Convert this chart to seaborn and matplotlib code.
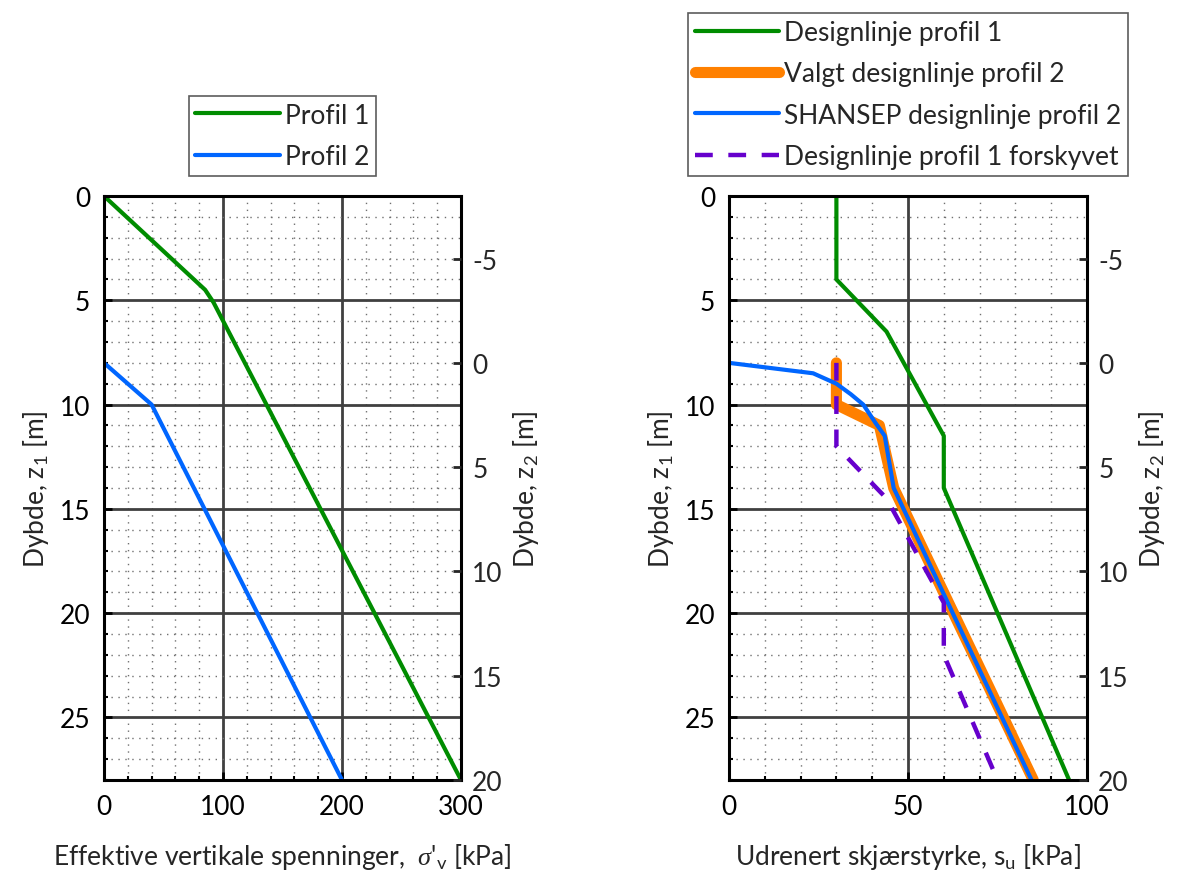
import pandas as pd
import matplotlib
matplotlib.use("Agg")
import matplotlib.pyplot as plt
import seaborn as sns
from matplotlib.ticker import MultipleLocator

# Effective vertical stress profiles [kPa] vs depth z1 [m]
profil1_sigma = [0, 85, 92, 300]
profil1_z = [0, 4.5, 5.1, 28]
profil2_sigma = [0, 40, 200]
profil2_z = [8, 10, 28]

# Undrained shear strength design lines [kPa] vs depth z1 [m]
design1_su = [30, 30, 44, 60, 60, 95]
design1_z = [0, 4, 6.5, 11.5, 14, 28]
valgt2_su = [30, 30, 42, 46, 85]
valgt2_z = [8, 10, 11, 14, 28]
shansep2_su = [0, 23.5, 30, 34, 37.5, 41, 43.5, 46, 84.5]
shansep2_z = [8, 8.5, 9, 9.5, 10, 10.9, 11.5, 14, 28]
forskyvet_su = [30, 30, 44, 60, 60, 75]
forskyvet_z = [8, 12, 14.5, 19.5, 22, 28]

z1_ticks = [0, 5, 10, 15, 20, 25]
z2_ticks = [-5, 0, 5, 10, 15, 20]
z_shift = 8  # z2 = z1 - 8

GREEN = "#008c00"
BLUE = "#0066ff"
ORANGE = "#ff8000"
PURPLE = "#6600cc"

sns.set_style("white")
plt.rcParams["font.family"] = ["Lato", "DejaVu Sans"]
plt.rcParams["mathtext.fontset"] = "custom"
plt.rcParams["mathtext.rm"] = "Lato"
plt.rcParams["mathtext.it"] = "Liberation Serif:italic"
plt.rcParams["mathtext.default"] = "regular"
plt.rcParams["axes.unicode_minus"] = False

FS = 19

fig = plt.figure(figsize=(11.81, 8.79), dpi=100)
ax1 = fig.add_axes([104 / 1181, 1 - 781 / 879, 357 / 1181, 584 / 879])
ax2 = fig.add_axes([729 / 1181, 1 - 781 / 879, 358 / 1181, 584 / 879])


def line(ax, x, z, color, lw, label, **kw):
    df = pd.DataFrame({"x": x, "z": z})
    sns.lineplot(data=df, x="x", y="z", ax=ax, sort=False, estimator=None,
                 color=color, lw=lw, label=label, **kw)


def style_axis(ax, xmax, xmajor, xminor):
    ax.set_xlim(0, xmax)
    ax.set_ylim(28, 0)
    ax.xaxis.set_major_locator(MultipleLocator(xmajor))
    ax.xaxis.set_minor_locator(MultipleLocator(xminor))
    ax.set_yticks(z1_ticks)
    ax.yaxis.set_minor_locator(MultipleLocator(1))
    ax.grid(which="major", color="#404040", lw=2)
    ax.grid(which="minor", color="#707070", lw=1, linestyle=(0, (1, 4)))
    ax.set_axisbelow(True)
    for s in ax.spines.values():
        s.set_color("black")
        s.set_linewidth(2.2)
    ax.tick_params(which="both", direction="in", colors="black",
                   labelsize=FS, top=False, right=False, left=True, bottom=True)
    ax.tick_params(which="major", length=6, width=2, pad=10)
    ax.tick_params(which="minor", length=3, width=1.5)
    ax.set_ylabel("Dybde, z$_{1}$ [m]", fontsize=FS, labelpad=6)

    tw = ax.twinx()
    tw.set_ylim(28 - z_shift, 0 - z_shift)
    tw.set_yticks(z2_ticks)
    tw.tick_params(direction="in", labelsize=FS, length=6, width=2, pad=8)
    tw.set_ylabel("Dybde, z$_{2}$ [m]", fontsize=FS, labelpad=6)
    for s in tw.spines.values():
        s.set_visible(False)
    return tw


def legend(ax):
    leg = ax.legend(loc="lower center", bbox_to_anchor=(0.5, 1.035), fontsize=FS,
                    frameon=True, fancybox=False, edgecolor="#333333",
                    handlelength=3.2, handletextpad=0.2, borderpad=0.25,
                    labelspacing=0.62, borderaxespad=0)
    leg.get_frame().set_linewidth(1.2)


# Left panel
line(ax1, profil1_sigma, profil1_z, GREEN, 3, "Profil 1")
line(ax1, profil2_sigma, profil2_z, BLUE, 3, "Profil 2")
style_axis(ax1, 300, 100, 20)
ax1.set_xlabel(r"Effektive vertikale spenninger,  $\mathit{\sigma}$'$_{v}$ [kPa]",
               fontsize=FS, labelpad=16)
legend(ax1)

# Right panel
line(ax2, design1_su, design1_z, GREEN, 3, "Designlinje profil 1")
line(ax2, valgt2_su, valgt2_z, ORANGE, 8, "Valgt designlinje profil 2")
line(ax2, shansep2_su, shansep2_z, BLUE, 3, "SHANSEP designlinje profil 2")
line(ax2, forskyvet_su, forskyvet_z, PURPLE, 3.2, "Designlinje profil 1 forskyvet",
     linestyle=(0, (4, 3.5)))
style_axis(ax2, 100, 50, 10)
ax2.set_xlabel("Udrenert skjærstyrke, s$_{u}$ [kPa]", fontsize=FS, labelpad=16)
legend(ax2)

fig.savefig("out.png", dpi=100)
